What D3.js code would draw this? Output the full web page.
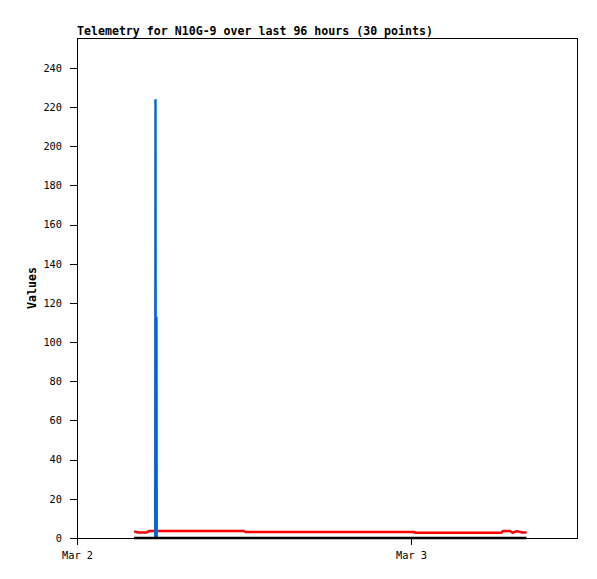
<!DOCTYPE html>
<html>
<head>
<meta charset="utf-8">
<script src="https://cdn.jsdelivr.net/npm/d3@7"></script>
<style>
  body { margin: 0; background: #fff; }
  text { font-family: "DejaVu Sans Mono", monospace; fill: #000; }
</style>
</head>
<body>
<div class="chart"></div>
<script>
// hours after Mar 2 00:00, and values
const start = new Date(2024, 2, 2);
const endHours = 35.93;
const yMax = 255.3;

const redHours = [4.1, 4.4, 5.0, 5.2, 12.0, 12.1, 24.2, 24.3, 30.5, 30.6, 31.1, 31.3, 31.6, 32.0, 32.3];
const redValues = [3.4, 2.8, 2.8, 3.6, 3.6, 3.1, 3.1, 2.7, 2.7, 3.6, 3.6, 2.7, 3.5, 2.8, 2.8];

const blackHours = [4.1, 32.3];
const blackValues = [0, 0];

const blueHours = [5.62, 5.64, 5.66, 5.69, 5.71, 5.73];
const blueValues = [0, 224, 0, 0, 113, 0];

const yTicks = [0, 20, 40, 60, 80, 100, 120, 140, 160, 180, 200, 220, 240];

const svg = d3.select('.chart').append('svg'),
  margin = { top: 38, right: 20, bottom: 41, left: 77 },
  width = 597 - margin.left - margin.right,
  height = 579 - margin.top - margin.bottom;

svg.attr('width', 597).attr('height', 579);

const hour = function(h) { return new Date(start.getTime() + h * 3600000); };

const x = d3.scaleTime().domain([start, hour(endHours)]).range([0, width]);
const y = d3.scaleLinear().domain([0, yMax]).range([height, 0]);

const g = svg.append('g')
  .attr('transform', 'translate(' + margin.left + ',' + margin.top + ')');

// frame
g.append('path')
  .attr('d', 'M0,0H' + width + 'V' + height)
  .attr('fill', 'none')
  .attr('stroke', '#000')
  .attr('shape-rendering', 'crispEdges');

const line = d3.line()
  .x(function(d) { return x(hour(d[0])); })
  .y(function(d) { return y(d[1]); });

function series(hours, values, color, w) {
  g.append('path')
    .datum(d3.zip(hours, values))
    .attr('fill', 'none')
    .attr('stroke', color)
    .attr('stroke-width', w)
    .attr('stroke-linejoin', 'bevel')
    .attr('d', line);
}

series(redHours, redValues, '#ff0000', 2.5);
series(blueHours, blueValues, '#0066cc', 2.4);
series(blackHours, blackValues, '#000000', 2.6);

g.append('g')
  .attr('class', 'x axis')
  .attr('transform', 'translate(0,' + height + ')')
  .call(d3.axisBottom(x).ticks(d3.timeDay.every(1)).tickFormat(d3.timeFormat('%b %-d')).tickSizeInner(7).tickSizeOuter(0).tickPadding(7));

g.append('g')
  .attr('class', 'y axis')
  .call(d3.axisLeft(y).tickValues(yTicks).tickSizeInner(7).tickSizeOuter(0).tickPadding(8));

svg.selectAll('.axis path, .axis line').attr('stroke', '#000').attr('shape-rendering', 'crispEdges');
svg.selectAll('.axis text').attr('font-size', '10.3px').attr('font-family', '"DejaVu Sans Mono", monospace');

svg.append('text')
  .attr('x', 77).attr('y', 35)
  .attr('font-size', '11.6px').attr('font-weight', 'bold')
  .text('Telemetry for N10G-9 over last 96 hours (30 points)');

svg.append('text')
  .attr('transform', 'translate(36,288) rotate(-90)')
  .attr('text-anchor', 'middle')
  .attr('font-size', '11.6px').attr('font-weight', 'bold')
  .text('Values');
</script>
</body>
</html>
